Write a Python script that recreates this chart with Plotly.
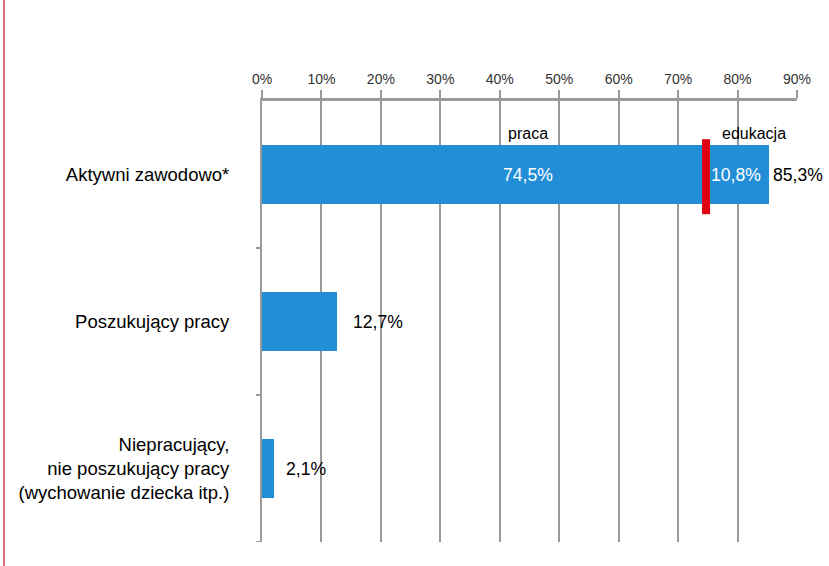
import plotly.graph_objects as go

categories = ["Aktywni zawodowo*", "Poszukujący pracy",
              "Niepracujący,<br>nie poszukujący pracy<br>(wychowanie dziecka itp.)"]
praca = [74.5, 12.7, 2.1]
edukacja = [10.8, None, None]
totals = [85.3, 12.7, 2.1]
tick_vals = [0, 10, 20, 30, 40, 50, 60, 70, 80, 90]
tick_text = ["0%", "10%", "20%", "30%", "40%", "50%", "60%", "70%", "80%", "90%"]

BLUE = "#228ed7"
GRID = "#9a9a9a"
FONT = "Liberation Sans, Arial, sans-serif"

def pl(v):
    return f"{v:.1f}".replace(".", ",") + "%"

idx = [0, 1, 2]
fig = go.Figure()
fig.add_trace(go.Bar(y=idx, x=praca, orientation="h", marker_color=BLUE,
                     marker_line_width=0, width=0.4, showlegend=False))
fig.add_trace(go.Bar(y=idx, x=edukacja, orientation="h", marker_color=BLUE,
                     marker_line_width=0, width=0.4, showlegend=False))

ann = []
ann.append(dict(x=44.7, y=0, text=pl(praca[0]), showarrow=False,
                font=dict(color="white", size=17.6, family=FONT)))
ann.append(dict(x=79.8, y=0, text=pl(edukacja[0]), showarrow=False,
                font=dict(color="white", size=17.6, family=FONT)))
ann.append(dict(x=44.8, y=-0.28, text="praca", showarrow=False,
                font=dict(color="black", size=16, family=FONT)))
ann.append(dict(x=82.7, y=-0.28, text="edukacja", showarrow=False,
                font=dict(color="black", size=16, family=FONT)))
gaps = [4, 16, 12]
for i, t in enumerate(totals):
    ann.append(dict(x=t, y=i, text=pl(t), showarrow=False, xanchor="left", xshift=gaps[i] - 2,
                    font=dict(color="black", size=17.6, family=FONT)))

fig.update_layout(
    barmode="stack",
    width=829, height=566,
    margin=dict(l=262, r=32, t=101, b=24),
    paper_bgcolor="white", plot_bgcolor="white",
    font=dict(family=FONT, color="black"),
    annotations=ann,
    shapes=[
        dict(type="line", xref="x", yref="y", x0=74.7, x1=74.7, y0=-0.24, y1=0.27,
             line=dict(color="#e00010", width=8)),
        dict(type="line", xref="paper", yref="paper",
             x0=-258 / 535, x1=-258 / 535, y0=-0.2, y1=1.3,
             line=dict(color="#d43a4c", width=1.5)),
    ],
)
fig.update_xaxes(
    side="top", range=[0, 90], tickvals=tick_vals, ticktext=tick_text,
    showgrid=True, gridcolor=GRID, gridwidth=2,
    showline=True, linecolor=GRID, linewidth=3,
    ticks="outside", ticklen=8, tickwidth=2, tickcolor=GRID,
    tickfont=dict(size=14, color="#333"), zeroline=False, fixedrange=True,
)
fig.update_yaxes(
    type="linear", range=[2.5, -0.5], tickvals=idx, ticktext=categories,
    showline=True, linecolor=GRID, linewidth=2,
    ticks="", showgrid=False, zeroline=False,
    ticklabelstandoff=27,
    tickfont=dict(size=18.5, color="black"),
)
for b in [0.5, 1.5, 2.5]:
    fig.add_shape(type="line", xref="paper", yref="y", x0=-6 / 535, x1=0, y0=b, y1=b,
                  line=dict(color=GRID, width=2))

fig.write_html("out.html")
